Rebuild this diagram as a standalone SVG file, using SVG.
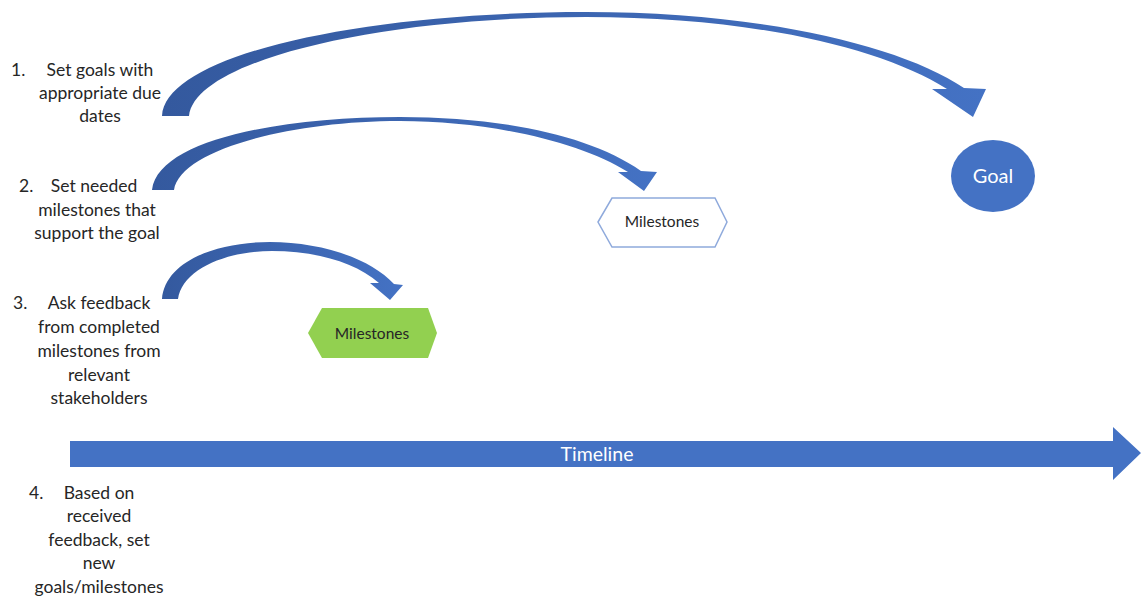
<svg xmlns="http://www.w3.org/2000/svg" width="1147" height="598" viewBox="0 0 1147 598">
  <style>
    .step { font-family: Lato, "Liberation Sans", sans-serif; font-size: 17.5px; fill: #262626; text-anchor: middle; }
    .num { text-anchor: start; }
    .lbl { font-family: Lato, "Liberation Sans", sans-serif; font-size: 15.5px; fill: #262626; text-anchor: middle; }
    .white { fill: #ffffff; }
    .curved { fill: url(#arcFill); }
  </style>
  <defs>
    <linearGradient id="arcFill" x1="0" y1="0" x2="1" y2="0">
      <stop offset="0" stop-color="#34599E"/>
      <stop offset="1" stop-color="#4472C4"/>
    </linearGradient>
  </defs>

  <!-- step descriptions -->
  <g id="step1">
    <text class="step num" x="11" y="76">1.</text>
    <text class="step" x="100" y="76">Set goals with</text>
    <text class="step" x="100" y="99">appropriate due</text>
    <text class="step" x="100" y="122">dates</text>
  </g>
  <g id="step2">
    <text class="step num" x="19" y="192">2.</text>
    <text class="step" x="94" y="192">Set needed</text>
    <text class="step" x="97" y="216">milestones that</text>
    <text class="step" x="97" y="239">support the goal</text>
  </g>
  <g id="step3">
    <text class="step num" x="13" y="309">3.</text>
    <text class="step" x="99" y="309">Ask feedback</text>
    <text class="step" x="99" y="333">from completed</text>
    <text class="step" x="99" y="357">milestones from</text>
    <text class="step" x="99" y="381">relevant</text>
    <text class="step" x="99" y="404">stakeholders</text>
  </g>
  <g id="step4">
    <text class="step num" x="29" y="499">4.</text>
    <text class="step" x="99" y="499">Based on</text>
    <text class="step" x="99" y="522">received</text>
    <text class="step" x="99" y="546">feedback, set</text>
    <text class="step" x="99" y="569">new</text>
    <text class="step" x="99" y="593">goals/milestones</text>
  </g>

  <!-- curved arrows and the timeline -->
  <g id="connectors">
    <path class="curved" d="M162,116 C165,55 360,12 586,12 C760,12 900,45 964,88 L986,89 L973,117 L932,89 L947,89 C880,47 750,17 586,17 C380,17 195,60 189,116 Z"/>
    <path class="curved" d="M152,190 C158,140 280,117 400,117 C500,117 590,135 641,171 L657,172 L644,191 L618,172 L628,172 C580,142 490,121 400,121 C290,121 180,150 174,190 Z"/>
    <path class="curved" d="M162,299 C165,262 215,242 270,242 C320,242 370,258 394,284 L403,285 L390,300 L370,283 L379,283 C355,262 315,251 272,251 C225,251 182,270 178,299 Z"/>
    <g id="timeline">
      <path d="M70,441 L1113,441 L1113,427 L1141,453 L1113,480 L1113,467 L70,467 Z" fill="#4472C4"/>
      <text class="lbl white" x="597" y="461" style="font-size:19.5px">Timeline</text>
    </g>
  </g>

  <g id="goal">
    <ellipse cx="993" cy="176" rx="42" ry="36" fill="#4472C4"/>
    <text class="lbl white" x="993" y="183" style="font-size:20px">Goal</text>
  </g>

  <g id="milestones-planned">
    <polygon points="598,222 612,198 715,198 727,222 715,247 612,247" fill="#ffffff" stroke="#8FAADC" stroke-width="1.5"/>
    <text class="lbl" x="662" y="227">Milestones</text>
  </g>

  <g id="milestones-done">
    <polygon points="308,333 322,308 428,308 437,333 428,358 322,358" fill="#92D050"/>
    <text class="lbl" x="372" y="339">Milestones</text>
  </g>
</svg>
